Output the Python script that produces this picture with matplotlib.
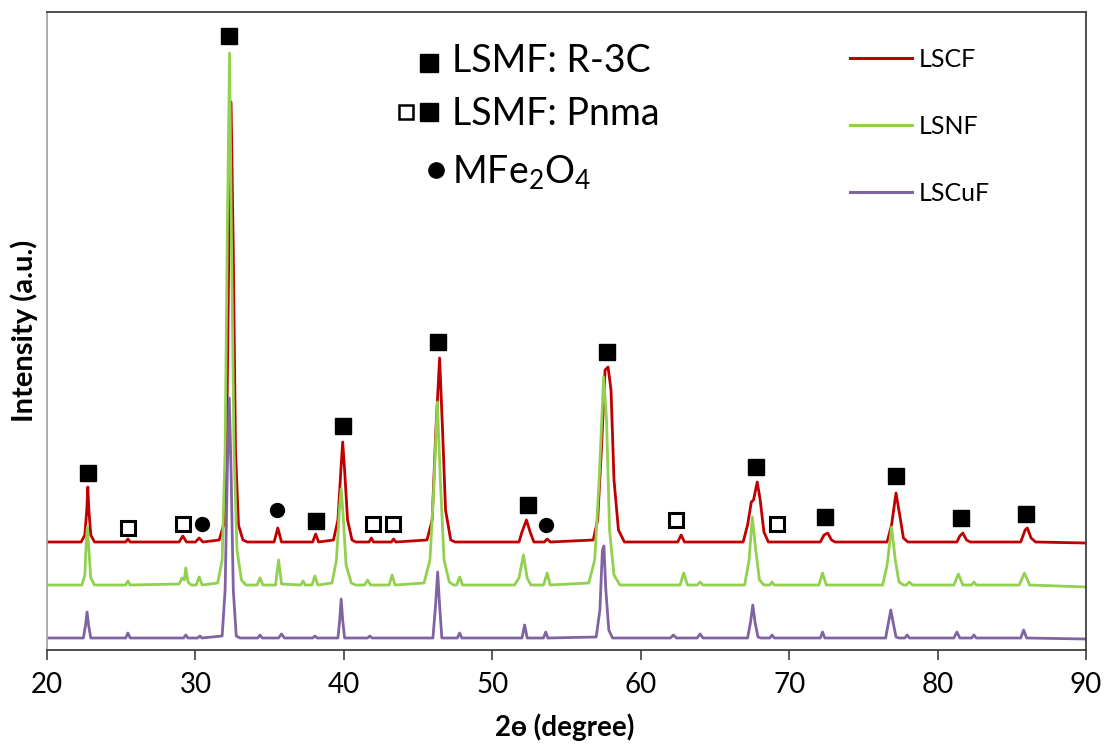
import matplotlib
matplotlib.use('Agg')
import matplotlib.pyplot as plt
from matplotlib.lines import Line2D

plt.rcParams['font.family'] = ['Lato', 'DejaVu Sans']
plt.rcParams['mathtext.fontset'] = 'custom'
plt.rcParams['mathtext.rm'] = 'Lato'
plt.rcParams['mathtext.it'] = 'Lato:italic'

lscf = [
    (20.0, 108), (22.3, 108), (22.55, 115), (22.68, 140), (22.75, 163), (22.82, 140), (22.95, 115), (23.2, 108),
    (25.3, 108), (25.45, 111), (25.6, 108), (28.9, 108), (29.15, 114), (29.4, 108),
    (30.0, 108), (30.25, 112), (30.5, 108),
    (31.6, 110), (31.9, 125), (32.1, 200), (32.25, 400), (32.4, 548), (32.55, 400), (32.7, 200), (32.9, 125),
    (33.2, 110), (33.5, 108),
    (35.3, 108), (35.55, 122), (35.8, 108), (37.9, 108), (38.1, 116), (38.3, 108),
    (39.3, 110), (39.6, 130), (39.8, 180), (39.92, 208), (40.05, 180), (40.25, 130), (40.55, 110), (40.8, 108),
    (41.7, 108), (41.85, 112), (42.0, 108), (43.2, 108), (43.35, 111), (43.5, 108),
    (45.6, 110), (45.95, 130), (46.2, 220), (46.45, 292), (46.65, 220), (46.85, 140), (47.2, 110), (47.5, 108),
    (51.8, 108), (52.0, 118), (52.3, 130), (52.55, 118), (52.8, 108),
    (53.5, 108), (53.7, 111), (53.9, 108),
    (56.8, 110), (57.1, 130), (57.35, 200), (57.6, 280), (57.8, 283), (58.0, 260), (58.2, 170), (58.5, 120),
    (58.9, 108),
    (62.5, 108), (62.72, 115), (62.95, 108),
    (66.9, 108), (67.2, 125), (67.45, 148), (67.6, 150), (67.85, 168), (68.05, 150), (68.3, 118), (68.6, 108),
    (72.1, 108), (72.35, 115), (72.6, 117), (72.85, 110), (73.1, 108),
    (76.6, 108), (76.9, 125), (77.2, 157), (77.45, 135), (77.7, 112), (78.0, 108),
    (81.3, 108), (81.5, 114), (81.7, 117), (81.95, 110), (82.2, 108),
    (85.6, 108), (85.9, 120), (86.05, 122), (86.3, 112), (86.6, 108), (90.0, 107),
]

lsnf = [
    (20.0, 65), (22.35, 65), (22.55, 75), (22.65, 110), (22.72, 123), (22.8, 105), (22.95, 72), (23.2, 65),
    (25.3, 65), (25.45, 69), (25.6, 65),
    (28.9, 66), (29.1, 72), (29.25, 70), (29.35, 82), (29.5, 68), (29.7, 65),
    (30.05, 65), (30.25, 73), (30.45, 65),
    (31.5, 67), (31.8, 90), (32.0, 200), (32.15, 420), (32.3, 597), (32.42, 420), (32.6, 200), (32.8, 100),
    (33.1, 70), (33.4, 65),
    (34.15, 65), (34.35, 72), (34.55, 65), (35.4, 65), (35.6, 90), (35.8, 66),
    (37.1, 65), (37.25, 69), (37.4, 65), (37.85, 65), (38.05, 74), (38.25, 65),
    (39.2, 67), (39.5, 90), (39.7, 140), (39.82, 161), (39.95, 135), (40.15, 85), (40.5, 67), (40.8, 65),
    (41.4, 65), (41.6, 70), (41.8, 65), (43.05, 65), (43.25, 75), (43.45, 65),
    (45.4, 67), (45.8, 90), (46.05, 160), (46.3, 248), (46.5, 170), (46.75, 90), (47.1, 68), (47.4, 65),
    (47.6, 65), (47.8, 73), (48.0, 65),
    (51.5, 65), (51.8, 72), (52.1, 95), (52.35, 72), (52.6, 65), (53.45, 65), (53.7, 77), (53.9, 65),
    (56.5, 67), (56.9, 90), (57.2, 170), (57.5, 273), (57.7, 230), (57.9, 120), (58.2, 75), (58.6, 65),
    (62.65, 65), (62.9, 77), (63.15, 65), (63.8, 65), (64.0, 68), (64.2, 65),
    (67.0, 65), (67.3, 90), (67.52, 133), (67.75, 100), (68.0, 70), (68.3, 65),
    (68.7, 65), (68.85, 68), (69.0, 65), (72.0, 65), (72.25, 77), (72.5, 65),
    (76.3, 65), (76.6, 85), (76.9, 123), (77.15, 90), (77.4, 68), (77.7, 65),
    (77.9, 65), (78.1, 68), (78.3, 65), (81.1, 65), (81.4, 76), (81.7, 65),
    (82.3, 65), (82.45, 68), (82.6, 65), (85.5, 65), (85.85, 77), (86.2, 65), (90.0, 63),
]

lscuf = [
    (20.0, 12), (22.45, 12), (22.6, 25), (22.7, 38), (22.8, 25), (22.95, 12),
    (25.3, 12), (25.45, 17), (25.6, 12), (29.2, 12), (29.35, 15), (29.5, 12),
    (30.15, 12), (30.3, 14), (30.45, 12),
    (31.8, 14), (32.0, 60), (32.15, 180), (32.28, 252), (32.4, 180), (32.55, 60), (32.75, 14), (33.0, 12),
    (34.2, 12), (34.35, 15), (34.5, 12), (35.6, 12), (35.8, 16), (36.0, 12),
    (37.9, 12), (38.05, 14), (38.2, 12),
    (39.6, 12), (39.72, 30), (39.82, 51), (39.92, 30), (40.05, 12),
    (41.6, 12), (41.75, 14), (41.9, 12),
    (46.0, 12), (46.18, 45), (46.32, 78), (46.45, 45), (46.6, 12),
    (47.65, 12), (47.8, 17), (47.95, 12), (52.0, 12), (52.18, 25), (52.35, 12),
    (53.45, 12), (53.6, 18), (53.75, 12),
    (57.0, 13), (57.25, 40), (57.42, 100), (57.52, 104), (57.65, 60), (57.85, 20), (58.1, 12),
    (62.0, 12), (62.2, 15), (62.4, 12), (63.8, 12), (64.0, 16), (64.2, 12),
    (67.2, 12), (67.4, 28), (67.55, 45), (67.7, 28), (67.9, 13), (68.1, 12),
    (68.7, 12), (68.85, 15), (69.0, 12), (72.1, 12), (72.25, 18), (72.4, 12),
    (76.5, 12), (76.7, 28), (76.85, 40), (77.0, 28), (77.2, 13), (77.4, 12),
    (77.8, 12), (77.95, 15), (78.1, 12), (81.1, 12), (81.3, 18), (81.5, 12),
    (82.3, 12), (82.45, 15), (82.6, 12), (85.6, 12), (85.8, 20), (86.0, 12), (90.0, 11),
]

# phase markers (2theta, height)
r3c_x = [22.76, 32.26, 38.12, 39.94, 46.34, 52.4, 57.73, 67.77, 72.42, 77.2, 81.58, 85.96]
r3c_y = [177, 614, 129, 224, 308, 145, 298, 183, 133, 174, 132, 136]
pnma_x = [25.46, 29.16, 41.96, 43.31, 62.38, 69.18]
pnma_y = [122, 126, 126, 126, 130, 126]
ferrite_x = [30.44, 35.5, 53.62]
ferrite_y = [126, 140, 125]

series = [('LSCF', lscf, '#C00000'), ('LSNF', lsnf, '#92D050'), ('LSCuF', lscuf, '#8064A2')]

W, H = 1108, 747
fig = plt.figure(figsize=(W / 100, H / 100), dpi=100)
ax = fig.add_axes([47 / W, 1 - 650 / H, (1086 - 47) / W, (650 - 12) / H])


def px(x, y):
    return x / W, 1 - y / H


for name, pts, col in series:
    ax.plot([p[0] for p in pts], [p[1] for p in pts], color=col, lw=2.0, solid_joinstyle='round')

ax.plot(r3c_x, r3c_y, 's', color='black', ms=11, ls='none')
ax.plot(pnma_x, pnma_y, 's', mfc='white', mec='black', mew=2.2, ms=9.5, ls='none')
ax.plot(ferrite_x, ferrite_y, 'o', color='black', ms=10, ls='none')

ax.set_xlim(20, 90)
ax.set_ylim(0, 638)
ax.set_xticks(range(20, 91, 10))
ax.set_yticks([])
ax.tick_params(axis='x', direction='out', length=7, width=1.2, color='#404040', labelsize=20, pad=9)
for s in ['top', 'right', 'bottom']:
    ax.spines[s].set_color('#404040')
    ax.spines[s].set_linewidth(1.3)
ax.spines['left'].set_color('#a6a6a6')
ax.spines['left'].set_linewidth(1.3)

fig.text(*px(565, 736), '2ɵ (degree)', ha='center', va='baseline', fontsize=20, fontweight='bold')
fig.text(*px(24, 331), 'Intensity (a.u.)', ha='center', va='center', rotation=90,
         fontsize=21, fontweight='bold')

# phase key
fig.add_artist(Line2D([px(429, 63)[0]], [px(429, 63)[1]], marker='s', color='black', ms=13,
                      transform=fig.transFigure))
fig.text(*px(452, 72), 'LSMF: R-3C', fontsize=27, va='baseline')
fig.add_artist(Line2D([px(406, 112)[0]], [px(406, 112)[1]], marker='s', mfc='white', mec='black',
                      mew=1.8, ms=10, transform=fig.transFigure))
fig.add_artist(Line2D([px(429, 112)[0]], [px(429, 112)[1]], marker='s', color='black', ms=13,
                      transform=fig.transFigure))
fig.text(*px(452, 125), 'LSMF: Pnma', fontsize=27, va='baseline')
fig.add_artist(Line2D([px(436, 170)[0]], [px(436, 170)[1]], marker='o', color='black', ms=11,
                      transform=fig.transFigure))
fig.text(*px(452, 183), r'MFe$_\mathregular{2}$O$_\mathregular{4}$', fontsize=27, va='baseline')

# series key
for (name, pts, col), yy in zip(series, [58, 125, 192]):
    x0, y0 = px(850, yy)
    x1, _ = px(912, yy)
    fig.add_artist(Line2D([x0, x1], [y0, y0], color=col, lw=2.2, transform=fig.transFigure))
    fig.text(*px(919, yy + 9), name, fontsize=18, va='baseline')

fig.savefig('out.png', dpi=100)
